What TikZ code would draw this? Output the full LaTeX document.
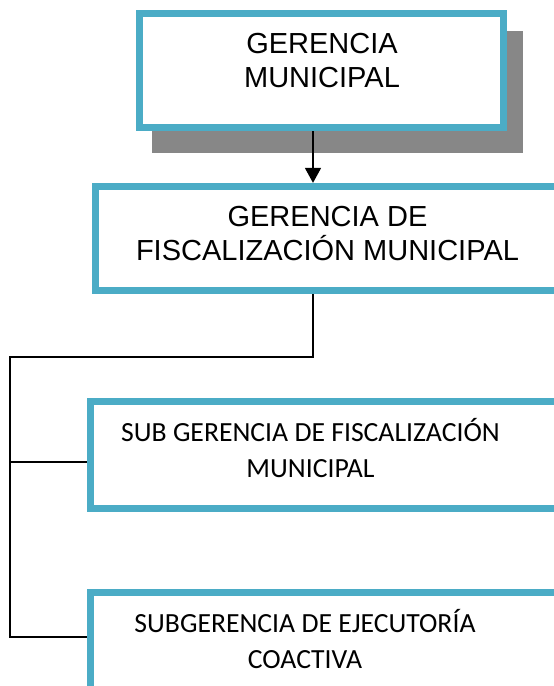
\documentclass[tikz,border=0pt]{standalone}
\usepackage{fontspec}
\setmainfont{Liberation Sans}
\newfontfamily\calfont{Carlito}
\usetikzlibrary{arrows.meta}
\definecolor{teal5}{HTML}{4BACC6}
\definecolor{shadowgrey}{HTML}{878787}
\tikzset{
  orgbox/.style={draw=teal5, line width=6.8pt, fill=white, rectangle, inner sep=0pt},
  shadowbox/.style={fill=shadowgrey, draw=none, rectangle, inner sep=0pt},
  arialtext/.style={align=center, inner sep=0pt, font=\fontsize{29}{34}\selectfont},
  calitext/.style={align=center, inner sep=0pt, font=\calfont\fontsize{27.7}{36}\selectfont},
  conn/.style={draw=black, line width=1.6pt},
}
\begin{document}
\begin{tikzpicture}[x=1pt,y=-1pt]
\useasboundingbox (0,0) rectangle (554,686);
\clip (0,0) rectangle (554,686);
% shadow and top box
\node[shadowbox, minimum width=371pt, minimum height=122pt] (shadow) at (337.5,92) {};
\node[orgbox, minimum width=364.5pt, minimum height=114.5pt] (gm) at (321.5,70.5) {};
\node[arialtext, anchor=base] (gmtext) at (322,87.3) {GERENCIA\\MUNICIPAL};
% second box
\node[orgbox, minimum width=474.75pt, minimum height=104.5pt] (gfm) at (332.6,238.5) {};
\node[arialtext, anchor=base] (gfmtext) at (327.5,260.7) {GERENCIA DE\\FISCALIZACIÓN MUNICIPAL};
% third box
\node[orgbox, minimum width=479.75pt, minimum height=107.5pt] (sgf) at (330.1,455) {};
\node[calitext, anchor=base] (sgftext) at (310.5,477.3) {SUB GERENCIA DE FISCALIZACIÓN\\MUNICIPAL};
% fourth box
\node[orgbox, minimum width=479.75pt, minimum height=127.75pt] (sge) at (330.1,656) {};
\node[calitext, anchor=base] (sgetext) at (305,668.3) {SUBGERENCIA DE EJECUTORÍA\\COACTIVA};
% connector coordinates
\coordinate (ax) at (313,0);
\coordinate (bus) at (10,357);
\coordinate (b3) at (10,462);
\coordinate (b4) at (10,637);
% arrow
\draw[conn, -{Triangle[width=16pt,length=15pt]}] (gm.south -| ax) -- (gfm.north -| ax);
% tree
\draw[conn] (gfm.south -| ax) |- (bus) -- (b4) -- (b4 -| sge.west);
\draw[conn] (b3) -- (b3 -| sgf.west);
\end{tikzpicture}
\end{document}
